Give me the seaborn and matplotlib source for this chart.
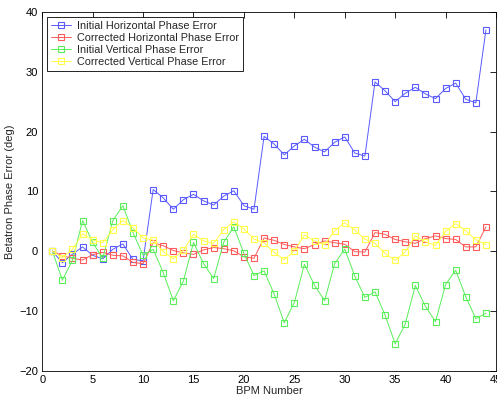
import matplotlib
matplotlib.use("Agg")
import matplotlib.pyplot as plt
import seaborn as sns
import pandas as pd
import numpy as np

bpm = list(range(1, 45))

init_h = [0, -1.95, -0.5, 0.7, -0.7, -1.3, 0.3, 1.2, -1.4, -1.6,
          10.3, 8.9, 7.0, 8.6, 9.5, 8.4, 7.7, 9.2, 10.1, 7.6,
          7.0, 19.2, 17.9, 16.1, 17.6, 18.7, 17.4, 16.6, 18.2, 19.1,
          16.4, 15.9, 28.3, 26.8, 25.0, 26.4, 27.4, 26.3, 25.5, 27.2,
          28.1, 25.4, 24.8, 37.0]
corr_h = [0, -0.8, -1.2, -1.5, -0.6, -0.2, -0.7, -0.8, -1.9, -2.1,
          1.4, 0.9, 0.1, -0.3, -0.55, 0.2, 0.6, 0.4, 0.05, -0.95,
          -1.2, 2.2, 1.8, 1.1, 0.7, 0.4, 1.1, 1.7, 1.4, 1.15,
          -0.1, -0.15, 3.1, 2.8, 1.95, 1.55, 1.3, 2.1, 2.55, 2.1,
          1.95, 0.7, 0.7, 4.05]
init_v = [0, -4.85, -1.5, 5.1, 1.45, -1.2, 5.1, 7.6, 3.1, -0.7,
          0.3, -3.6, -8.3, -5.0, 1.45, -2.1, -4.6, 1.5, 4.05, -0.4,
          -4.1, -3.3, -7.2, -12.0, -8.6, -2.2, -5.7, -8.3, -2.1, 0.35,
          -4.2, -7.75, -6.8, -10.7, -15.5, -12.2, -5.75, -9.25, -11.8, -5.6,
          -3.2, -7.65, -11.3, -10.4]
corr_v = [0, -1.1, 0.3, 2.9, 1.85, 1.4, 3.6, 5.1, 3.9, 2.2,
          1.85, -0.1, -1.3, 0.15, 2.8, 1.7, 1.3, 3.6, 4.9, 3.7,
          2.0, 1.4, -0.2, -1.45, 0.05, 2.7, 1.7, 1.05, 3.4, 4.75,
          3.5, 2.0, 1.3, -0.4, -1.55, -0.15, 2.55, 1.55, 0.95, 3.3,
          4.6, 3.4, 1.9, 1.1]

series_names = ["Initial Horizontal Phase Error", "Corrected Horizontal Phase Error",
                "Initial Vertical Phase Error", "Corrected Vertical Phase Error"]
series_vals = [init_h, corr_h, init_v, corr_v]
colors = ["#5a5aff", "#ff5a5a", "#5aee5a", "#ffff48"]

x_ticks = [0, 5, 10, 15, 20, 25, 30, 35, 40, 45]
y_ticks = [-20, -10, 0, 10, 20, 30, 40]

df = pd.concat([pd.DataFrame({"BPM": bpm, "Error": v, "Series": n})
                for n, v in zip(series_names, series_vals)], ignore_index=True)

sns.set_style("white")
plt.rcParams["font.family"] = ["Liberation Sans", "DejaVu Sans"]
plt.rcParams["font.size"] = 8

fig = plt.figure(figsize=(4.97, 3.99), dpi=100)
ax = fig.add_axes([0.085, 0.071, 0.913, 0.899])

sns.lineplot(data=df, x="BPM", y="Error", hue="Series", palette=colors,
             hue_order=series_names, marker="s", markersize=4.5,
             markerfacecolor="none", markeredgewidth=0.8, linewidth=0.7,
             ax=ax, legend=True)
for line, c in zip(ax.get_lines(), colors):
    line.set_markeredgecolor(c)

ax.set_xlim(0, 45)
ax.set_ylim(-20, 40)
ax.set_xticks(x_ticks)
ax.set_yticks(y_ticks)
ax.tick_params(direction="in", length=4, width=0.6, top=True, right=True,
               labelsize=8, pad=3, colors="black")
for s in ax.spines.values():
    s.set_color("black")
    s.set_linewidth(0.6)
ax.set_xlabel("BPM Number", fontsize=8, labelpad=1)
ax.set_ylabel("Betatron Phase Error (deg)", fontsize=8, labelpad=3)

handles, labels = ax.get_legend_handles_labels()
for h, c in zip(handles, colors):
    h.set_markerfacecolor("none")
    h.set_markeredgecolor(c)
leg = ax.legend(handles, labels, loc="upper left", fontsize=7.8, frameon=True,
                fancybox=False, edgecolor="black", framealpha=1,
                borderpad=0.35, labelspacing=0.2, handlelength=1.9,
                handletextpad=0.5, borderaxespad=0.45)
leg.get_frame().set_linewidth(0.6)

fig.savefig("out.png", dpi=100)
